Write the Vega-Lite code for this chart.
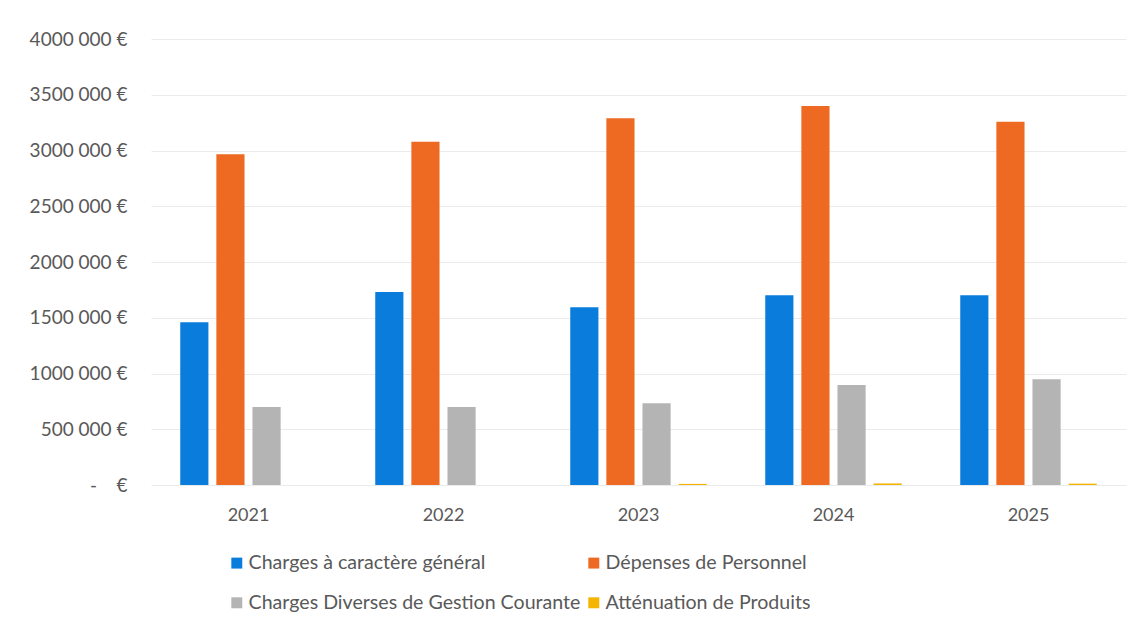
{
  "$schema": "https://vega.github.io/schema/vega-lite/v6.json",
  "autosize": "none",
  "width": 975,
  "height": 446,
  "padding": {"left": 151, "top": 39, "right": 18, "bottom": 143},
  "background": "white",
  "data": {
    "values": [
      {"annee": "2021", "poste": "Charges à caractère général", "montant": 1459000},
      {"annee": "2021", "poste": "Dépenses de Personnel", "montant": 2966000},
      {"annee": "2021", "poste": "Charges Diverses de Gestion Courante", "montant": 700000},
      {"annee": "2021", "poste": "Atténuation de Produits", "montant": 0},
      {"annee": "2022", "poste": "Charges à caractère général", "montant": 1731000},
      {"annee": "2022", "poste": "Dépenses de Personnel", "montant": 3079000},
      {"annee": "2022", "poste": "Charges Diverses de Gestion Courante", "montant": 700000},
      {"annee": "2022", "poste": "Atténuation de Produits", "montant": 0},
      {"annee": "2023", "poste": "Charges à caractère général", "montant": 1594000},
      {"annee": "2023", "poste": "Dépenses de Personnel", "montant": 3289000},
      {"annee": "2023", "poste": "Charges Diverses de Gestion Courante", "montant": 733000},
      {"annee": "2023", "poste": "Atténuation de Produits", "montant": 10000},
      {"annee": "2024", "poste": "Charges à caractère général", "montant": 1701000},
      {"annee": "2024", "poste": "Dépenses de Personnel", "montant": 3399000},
      {"annee": "2024", "poste": "Charges Diverses de Gestion Courante", "montant": 897000},
      {"annee": "2024", "poste": "Atténuation de Produits", "montant": 14000},
      {"annee": "2025", "poste": "Charges à caractère général", "montant": 1701000},
      {"annee": "2025", "poste": "Dépenses de Personnel", "montant": 3258000},
      {"annee": "2025", "poste": "Charges Diverses de Gestion Courante", "montant": 948000},
      {"annee": "2025", "poste": "Atténuation de Produits", "montant": 12000}
    ]
  },
  "mark": {"type": "bar"},
  "encoding": {
    "x": {
      "field": "annee", "type": "nominal",
      "scale": {"paddingInner": 0.3, "paddingOuter": 0.15},
      "axis": {"title": null, "labelAngle": 0, "domain": false, "ticks": false, "labelFont": "Lato", "labelFontSize": 18, "labelColor": "#595959", "labelPadding": 21}
    },
    "xOffset": {
      "field": "poste", "type": "nominal",
      "sort": ["Charges à caractère général", "Dépenses de Personnel", "Charges Diverses de Gestion Courante", "Atténuation de Produits"],
      "scale": {"paddingInner": 0.22, "paddingOuter": 0}
    },
    "y": {
      "field": "montant", "type": "quantitative",
      "scale": {"domain": [0, 4000000]},
      "axis": {
        "title": null, "values": [0, 500000, 1000000, 1500000, 2000000, 2500000, 3000000, 3500000, 4000000],
        "labelExpr": "datum.value == 0 ? '-\u00a0\u00a0\u00a0\u00a0€' : format(floor(datum.value/1000), 'd') + ' 000 €'",
        "domain": false, "ticks": false, "gridColor": "#ebebeb", "gridWidth": 1,
        "labelFont": "Lato", "labelFontSize": 19, "labelColor": "#595959", "labelPadding": 24
      }
    },
    "color": {
      "field": "poste", "type": "nominal",
      "sort": ["Charges à caractère général", "Dépenses de Personnel", "Charges Diverses de Gestion Courante", "Atténuation de Produits"],
      "scale": {"range": ["#0A7DDC", "#EE6A22", "#B4B4B4", "#F5B400"]},
      "legend": {
        "title": null, "orient": "none", "direction": "horizontal", "legendX": 76, "legendY": 514, "columns": 2, "columnPadding": 3, "rowPadding": 19,
        "symbolType": "square", "symbolSize": 120, "symbolStrokeWidth": 0, "symbolOffset": 0, "labelOffset": 2,
        "labelFont": "Lato", "labelFontSize": 19.6, "labelColor": "#595959", "labelLimit": 500, "padding": 0
      }
    }
  },
  "config": {"view": {"stroke": null}}
}
